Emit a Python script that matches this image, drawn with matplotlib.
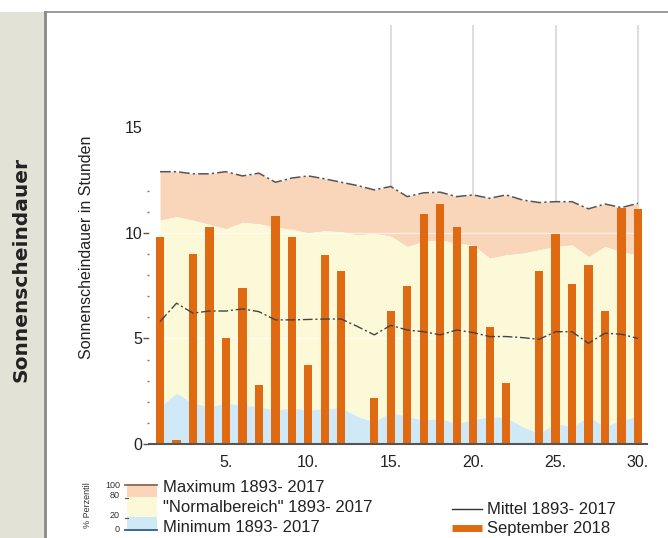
import matplotlib
matplotlib.use("Agg")
import matplotlib.pyplot as plt
from matplotlib.patches import Rectangle
from matplotlib.ticker import FixedLocator

days = list(range(1, 31))
sept_2018 = [9.8, 0.2, 9.0, 10.3, 5.0, 7.4, 2.8, 10.8, 9.8, 3.75, 8.95, 8.2, 0.0, 2.2, 6.3,
             7.5, 10.9, 11.35, 10.3, 9.4, 5.55, 2.9, 0.0, 8.2, 9.95, 7.6, 8.5, 6.3, 11.2, 11.15]
maximum = [12.9, 12.9, 12.8, 12.8, 12.9, 12.7, 12.83, 12.4, 12.6, 12.7, 12.56, 12.4, 12.24, 12.04, 12.2,
           11.72, 11.9, 11.93, 11.72, 11.8, 11.64, 11.8, 11.56, 11.44, 11.48, 11.48, 11.14, 11.37, 11.2, 11.4]
p80 = [10.6, 10.77, 10.6, 10.4, 10.2, 10.5, 10.43, 10.27, 10.17, 10.0, 10.1, 10.06, 9.9, 9.98, 9.85,
       9.35, 9.6, 9.67, 9.5, 9.43, 8.8, 8.96, 9.04, 9.2, 9.35, 9.43, 8.88, 9.35, 9.1, 8.96]
p20 = [1.77, 2.4, 1.93, 1.77, 1.93, 1.85, 1.77, 1.6, 1.7, 1.6, 1.7, 1.7, 1.3, 1.06, 1.5,
       1.3, 1.14, 1.2, 0.98, 1.14, 1.3, 1.25, 0.82, 0.5, 0.98, 0.82, 1.3, 0.82, 1.14, 1.3]
minimum = [0.0, 0.0, 0.0, 0.0, 0.0, 0.0, 0.0, 0.0, 0.0, 0.0, 0.0, 0.0, 0.0, 0.0, 0.0,
           0.0, 0.0, 0.0, 0.0, 0.0, 0.0, 0.0, 0.0, 0.0, 0.0, 0.0, 0.0, 0.0, 0.0, 0.0]
mittel = [5.8, 6.67, 6.2, 6.3, 6.3, 6.4, 6.27, 5.88, 5.88, 5.9, 5.92, 5.92, 5.56, 5.17, 5.62,
          5.4, 5.32, 5.17, 5.4, 5.28, 5.09, 5.09, 5.04, 4.96, 5.32, 5.32, 4.77, 5.25, 5.2, 5.0]
xtick_vals = [5, 10, 15, 20, 25, 30]
xtick_labels = ["5.", "10.", "15.", "20.", "25.", "30."]
ytick_vals = [0, 5, 10, 15]
yminor_vals = [1, 2, 3, 4, 6, 7, 8, 9, 11, 12]

C_BAR = "#df6a12"
C_MAX = "#f9d5b9"
C_NORM = "#fcf9d9"
C_MIN = "#cfe9f7"
C_BAND = "#e2e2d6"
FONT = "Liberation Sans"

W, H = 668, 538
fig = plt.figure(figsize=(W / 100, H / 100), dpi=100)
fig.patch.set_facecolor("white")

# overlay in pixel coordinates for the frame and legend
ov = fig.add_axes([0, 0, 1, 1], zorder=0)
ov.set_xlim(0, W)
ov.set_ylim(H, 0)
ov.axis("off")
ov.add_patch(Rectangle((0, 12), 45, H - 12, facecolor=C_BAND, edgecolor="none"))
ov.plot([45, 45], [12, H], color="#8a8a8a", lw=2)
ov.plot([45, W], [12, 12], color="#8a8a8a", lw=1.2)
ov.text(21, 269, "Sonnenscheindauer", rotation=90, ha="center", va="center",
        fontsize=14.5, fontweight="bold", family="DejaVu Sans", color="#222222")

# main axes
left, right = 149 / W, 647 / W
bottom, top = (H - 444) / H, (H - 25) / H
ax = fig.add_axes([left, bottom, right - left, top - bottom], zorder=1)
ax.patch.set_alpha(0)
ax.set_xlim(0.33, 30.55)
ax.set_ylim(0, 19.85)

for xv in [15, 20, 25, 30]:
    ax.axvline(xv, color="#dedede", lw=1.5, zorder=0)

ax.fill_between(days, p80, maximum, color=C_MAX, lw=0, zorder=1)
ax.fill_between(days, p20, p80, color=C_NORM, lw=0, zorder=1)
ax.fill_between(days, minimum, p20, color=C_MIN, lw=0, zorder=1)
for yv in [5, 10]:
    ax.axhline(yv, color="white", lw=1, alpha=0.6, zorder=2)

ax.bar(days, sept_2018, width=0.5, color=C_BAR, zorder=3)
ax.plot(days, maximum, color="#555555", lw=1.1, dashes=(7, 2, 1.5, 2), zorder=4)
ax.plot(days, mittel, color="#444444", lw=1.0, dashes=(7, 2, 1.5, 2), zorder=4)
ax.plot(days, minimum, color="#5b8fc0", lw=0.8, zorder=4)

for s in ["top", "right", "left"]:
    ax.spines[s].set_visible(False)
ax.spines["bottom"].set_color("#555555")
ax.spines["bottom"].set_linewidth(1.5)
ax.spines["bottom"].set_zorder(5)

ax.set_xticks(xtick_vals)
ax.set_xticklabels(xtick_labels, fontsize=11.5, family=FONT, color="#222222")
ax.tick_params(axis="x", which="major", length=0, pad=8)

ax.set_yticks(ytick_vals)
ax.set_yticklabels([str(v) for v in ytick_vals], fontsize=11.5, family=FONT, color="#222222")
ax.yaxis.set_minor_locator(FixedLocator(yminor_vals))
ax.tick_params(axis="y", which="major", length=4, width=1, color="#555555", pad=1)
ax.tick_params(axis="y", which="minor", length=1.5, width=1, color="#777777")
ax.yaxis.get_major_ticks()[-1].tick1line.set_visible(False)
ax.set_ylabel("Sonnenscheindauer in Stunden", fontsize=11.5, family=FONT, color="#222222")
ax.yaxis.set_label_coords(-0.110, 0.47)

# legend
lg = fig.add_axes([0, 0, 1, 1], zorder=2)
lg.set_xlim(0, W)
lg.set_ylim(H, 0)
lg.axis("off")
lg.add_patch(Rectangle((127, 485), 30, 12, facecolor=C_MAX, edgecolor="none"))
lg.add_patch(Rectangle((127, 497), 30, 20, facecolor=C_NORM, edgecolor="none"))
lg.add_patch(Rectangle((127, 517), 30, 13, facecolor=C_MIN, edgecolor="none"))
lg.plot([125, 157], [485, 485], color="#8a6a50", lw=1.3)
lg.plot([125, 157], [530, 530], color="#2f5f8f", lw=1.3)
lg.plot([125, 128], [498, 498], color="#555555", lw=0.8)
lg.plot([125, 128], [518, 518], color="#555555", lw=0.8)
small = dict(fontsize=6.5, family=FONT, color="#333333", ha="right", va="center")
lg.text(120, 485, "100", **small)
lg.text(120, 496, "80", **small)
lg.text(120, 516, "20", **small)
lg.text(120, 529, "0", **small)
lg.text(88, 505, "% Perzentil", rotation=90, fontsize=6.5, family=FONT, color="#333333",
        ha="center", va="center")
big = dict(fontsize=12, family=FONT, color="#222222", ha="left", va="center")
lg.text(163, 488, "Maximum 1893- 2017", **big)
lg.text(163, 508, "\"Normalbereich\" 1893- 2017", **big)
lg.text(163, 528, "Minimum 1893- 2017", **big)
lg.plot([452, 482], [509, 509], color="#333333", lw=1)
lg.text(487, 509, "Mittel 1893- 2017", **big)
lg.plot([452, 482], [528, 528], color=C_BAR, lw=5, solid_capstyle="butt")
lg.text(487, 528, "September 2018", **big)

fig.savefig("out.png", dpi=100)
